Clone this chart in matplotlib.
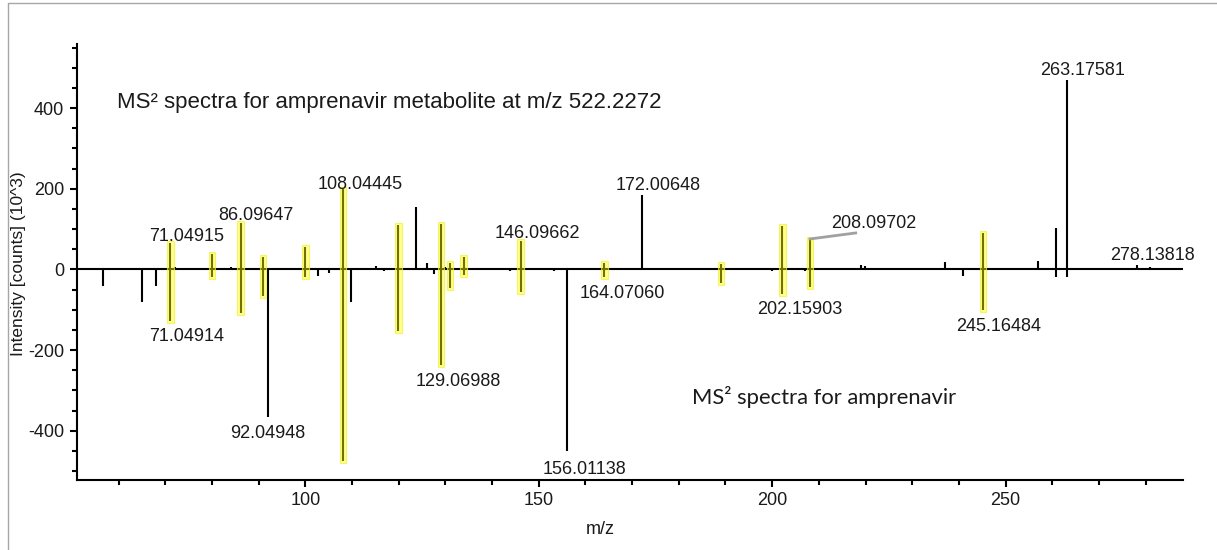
import matplotlib
matplotlib.use("Agg")
import matplotlib.pyplot as plt
from matplotlib.ticker import MultipleLocator
from matplotlib.lines import Line2D

plt.rcParams["font.family"] = ["Liberation Sans", "DejaVu Sans"]
plt.rcParams["axes.unicode_minus"] = False

# metabolite spectrum (drawn upward), intensity in 10^3 counts
upper_mz = [71.05, 72.0, 74.1, 79.3, 80.0, 84.1, 86.1, 90.9, 93.0, 95.9, 97.0, 98.0,
            100.0, 108.04, 115.1, 115.8, 118.0, 119.9, 123.8, 126.0, 129.07, 130.0,
            131.0, 133.9, 139.8, 144.2, 146.1, 158.0, 164.07, 172.01, 183.7, 189.0,
            202.16, 207.1, 208.1, 219.0, 219.9, 237.0, 245.16, 257.0, 260.8, 263.18,
            278.14, 280.9]
upper_int = [65, 5, 2, 3, 38, 5, 114, 32, 2, 2, 2, 3,
             56, 199, 8, 3, 2, 110, 154, 17, 113, 5,
             17, 30, 3, 3, 71, 3, 15, 185, 2, 13,
             108, 3, 75, 11, 8, 19, 91, 21, 104, 470,
             11, 5]

# amprenavir spectrum (drawn downward)
lower_mz = [56.7, 64.9, 68.0, 71.05, 80.0, 86.1, 90.9, 92.05, 100.0, 102.8, 105.0,
            108.04, 109.8, 116.9, 119.9, 127.6, 129.07, 131.0, 133.9, 143.8, 146.1,
            153.2, 156.01, 164.07, 189.0, 199.9, 202.16, 207.1, 208.1, 240.8, 245.16,
            260.8, 263.18]
lower_int = [41, 81, 41, 127, 18, 107, 66, 365, 19, 16, 8,
             476, 81, 5, 152, 12, 238, 47, 14, 5, 55,
             3, 449, 18, 34, 4, 61, 3, 44, 16, 100,
             18, 18]

# fragments shared by both spectra
highlight_mz = [71.05, 80.0, 86.1, 90.9, 100.0, 108.04, 119.9, 129.07, 131.0, 133.9,
                146.1, 164.07, 189.0, 202.16, 208.1, 245.16]

label_text = ["71.04915", "86.09647", "108.04445", "146.09662", "172.00648", "208.09702",
              "263.17581", "278.13818", "71.04914", "92.04948", "129.06988", "156.01138",
              "164.07060", "202.15903", "245.16484"]
label_x = [74.5, 89.4, 111.8, 149.7, 175.6, 221.8, 266.4, 281.4,
           74.5, 91.9, 132.8, 159.9, 167.8, 205.9, 248.6]
label_y = [81, 135, 211, 88, 207, 113, 493, 35,
           -165, -406, -278, -495, -59, -100, -142]

fig = plt.figure(figsize=(12.17, 5.5), dpi=100)
ax = fig.add_axes([0.063, 0.1273, 0.909, 0.7927])

ax.vlines(upper_mz, 0, upper_int, color="black", lw=1.5, zorder=2)
ax.vlines(lower_mz, 0, [-v for v in lower_int], color="black", lw=1.5, zorder=2)
ax.axhline(0, color="black", lw=1.5, zorder=2)

up = dict(zip(upper_mz, upper_int))
low = dict(zip(lower_mz, lower_int))
pad = 5
for m in highlight_mz:
    top, bot = up.get(m, 0), -low.get(m, 0)
    ax.bar(m, top - bot + 2 * pad, bottom=bot - pad, width=1.4,
           facecolor=(1, 1, 0, 0.45), edgecolor=(0.95, 0.95, 0.2, 0.7), lw=0.8, zorder=3)

for t, x, y in zip(label_text, label_x, label_y):
    ax.text(x, y, t, ha="center", va="center", fontsize=13, color="#1a1a1a", zorder=4)

# leader line for 208.09702
ax.plot([208.1, 217.9], [75.6, 90.5], color="#a0a0a0", lw=2, zorder=4)

ax.text(59.7, 413, "MS² spectra for amprenavir metabolite at m/z 522.2272",
        ha="left", va="center", fontsize=16, color="#1a1a1a")
ax.text(182.9, -316, "MS² spectra for amprenavir", ha="left", va="center",
        fontsize=15.8, color="#1a1a1a", family=["Lato", "DejaVu Sans"])

ax.set_xlim(51, 288)
ax.set_ylim(-522, 559)
ax.set_xticks([100, 150, 200, 250])
ax.xaxis.set_minor_locator(MultipleLocator(10))
ax.set_yticks([-400, -200, 0, 200, 400])
ax.yaxis.set_minor_locator(MultipleLocator(50))
ax.tick_params(which="major", length=5, width=1.5, labelsize=13, colors="black",
               labelcolor="#1a1a1a", pad=4)
ax.tick_params(which="minor", length=3.5, width=1.5, colors="black")

for s in ["top", "right"]:
    ax.spines[s].set_visible(False)
for s in ["left", "bottom"]:
    ax.spines[s].set_linewidth(1.5)

ax.set_xlabel("m/z", fontsize=13, color="#1a1a1a")
ax.xaxis.set_label_coords(0.473, -0.094)
ax.set_ylabel("Intensity [counts] (10^3)", fontsize=12.5, color="#1a1a1a")
ax.yaxis.set_label_coords(-0.046, 0.495)

# page frame: only top and left edges show
fig.add_artist(Line2D([8 / 1217, 8 / 1217, 1], [0, 1 - 3 / 550, 1 - 3 / 550],
                      transform=fig.transFigure, color="#a6a6a6", lw=1))

fig.savefig("out.png", dpi=100)
